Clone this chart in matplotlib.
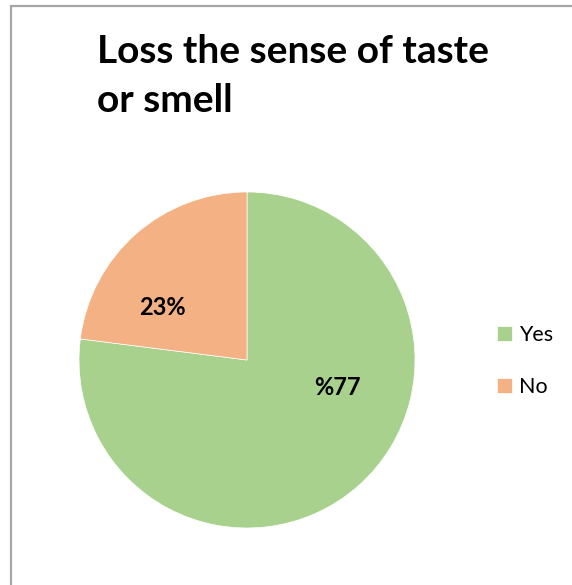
import numpy as np
import matplotlib
matplotlib.use('Agg')
import matplotlib.pyplot as plt
from matplotlib.patches import Rectangle

# data
labels = ['Yes', 'No']
values = [77, 23]
value_texts = ['%77', '23%']
colors = ['#A9D18E', '#F4B183']
title = 'Loss the sense of taste\nor smell'


def main():
    plt.rcParams['font.family'] = ['Lato', 'DejaVu Sans']

    W, H = 572, 585
    fig = plt.figure(figsize=(W / 100, H / 100), dpi=100)

    # chart area frame (runs off the right and bottom edge)
    fig.patches.append(Rectangle((10.5 / W, -0.1), 1.2, 1.1 - 6.5 / H,
                                 transform=fig.transFigure, fill=False,
                                 edgecolor='#A6A6A6', linewidth=1.6))

    # pie: center (247, 360) px, radius 168 px
    cx, cy, r = 247, 360, 168
    ax = fig.add_axes([(cx - r) / W, (H - cy - r) / H, 2 * r / W, 2 * r / H])
    wedges, _ = ax.pie(values, colors=colors, startangle=90, counterclock=False,
                       radius=1, wedgeprops=dict(linewidth=0.5, edgecolor='white'))
    ax.set_xlim(-1, 1)
    ax.set_ylim(-1, 1)
    ax.set_aspect('auto')

    # data labels
    label_pos = [(0.54, -0.165), (-0.505, 0.315)]
    for (x, y), t in zip(label_pos, value_texts):
        ax.text(x, y, t, ha='center', va='center', fontsize=17,
                fontweight='bold', color='black')

    fig.text(97 / W, 1 - 34 / H, title, ha='left', va='top',
             fontsize=28, fontweight='bold', linespacing=1.5)

    fig.legend(wedges, labels, loc='center left',
               bbox_to_anchor=(478 / W, 1 - 361 / H), frameon=False,
               fontsize=15.5, handlelength=0.7, handleheight=0.7,
               handletextpad=0.3, labelspacing=1.45)

    fig.savefig('out.png', dpi=100)


if __name__ == '__main__':
    main()
